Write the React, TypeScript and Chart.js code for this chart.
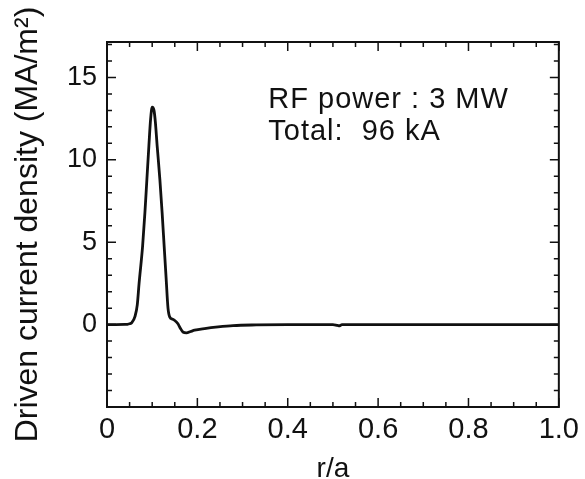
import { useEffect, useRef } from "react";
import { Chart, registerables } from "chart.js";

Chart.register(...registerables);

// r/a positions
const R = [
  0, 0.02, 0.04, 0.045, 0.05, 0.055, 0.062, 0.067, 0.071, 0.0788, 0.0839, 0.0883,
  0.0927, 0.0965, 0.1, 0.104, 0.107, 0.111, 0.117, 0.122, 0.1265, 0.131, 0.135,
  0.139, 0.145, 0.15, 0.157, 0.163, 0.168, 0.176, 0.185, 0.194, 0.216, 0.246,
  0.279, 0.33, 0.4, 0.5, 0.51, 0.515, 0.52, 0.6, 0.7, 0.8, 0.9, 1.0,
];
// driven current density (MA/m^2)
const J = [
  0, 0, 0.01, 0.02, 0.05, 0.12, 0.5, 1.2, 2.5, 4.76, 6.79, 8.82,
  10.85, 12.47, 13.2, 13.0, 12.3, 10.85, 8.82, 6.79, 4.76, 2.74, 1.0,
  0.45, 0.33, 0.25, 0.05, -0.25, -0.45, -0.5, -0.42, -0.34, -0.24, -0.14,
  -0.06, -0.02, 0, 0, -0.05, -0.07, 0, 0, 0, 0, 0, 0,
];

const X_TICKS = [0, 0.2, 0.4, 0.6, 0.8, 1.0];
const X_TICK_LABELS = ["0", "0.2", "0.4", "0.6", "0.8", "1.0"];
const X_MINOR = [0.05, 0.1, 0.15, 0.25, 0.3, 0.35, 0.45, 0.5, 0.55, 0.65, 0.7, 0.75, 0.85, 0.9, 0.95];
const Y_TICKS = [0, 5, 10, 15];
const Y_TICK_LABELS = ["0", "5", "10", "15"];
const Y_MINOR = [-4, -3, -2, -1, 1, 2, 3, 4, 6, 7, 8, 9, 11, 12, 13, 14, 16, 17];
const Y_MIN = -5;
const Y_MAX = 17.15;
const X_TITLE = "r/a";
const Y_TITLE = "Driven current density (MA/m\u00B2)";
const NOTE_LINES = ["RF power : 3 MW", "Total:  96 kA"];
const NOTE_X = 0.357;
const NOTE_Y = [13.12, 11.23];

const FONT = "'Liberation Sans', Arial, Helvetica, sans-serif";
const INK = "#111111";

const framePlugin = {
  id: "frameTicks",
  afterDraw(chart: any) {
    const { ctx, chartArea } = chart;
    const xs = chart.scales.x;
    const ys = chart.scales.y;
    const { left, right, top, bottom } = chartArea;
    ctx.save();
    ctx.strokeStyle = INK;
    ctx.lineWidth = 2;
    ctx.strokeRect(left, top, right - left, bottom - top);
    ctx.lineWidth = 1.5;
    const majorLen = 9;
    const minorLen = 5;
    ctx.beginPath();
    const vx = (v: number, len: number) => {
      const p = xs.getPixelForValue(v);
      ctx.moveTo(p, bottom);
      ctx.lineTo(p, bottom - len);
      ctx.moveTo(p, top);
      ctx.lineTo(p, top + len);
    };
    const vy = (v: number, len: number) => {
      const p = ys.getPixelForValue(v);
      ctx.moveTo(left, p);
      ctx.lineTo(left + len, p);
      ctx.moveTo(right, p);
      ctx.lineTo(right - len, p);
    };
    X_TICKS.forEach((v) => vx(v, majorLen));
    X_MINOR.forEach((v) => vx(v, minorLen));
    Y_TICKS.forEach((v) => vy(v, majorLen));
    Y_MINOR.forEach((v) => vy(v, minorLen));
    ctx.stroke();

    ctx.fillStyle = INK;
    ctx.font = `29px ${FONT}`;
    ctx.textBaseline = "alphabetic";
    ctx.textAlign = "left";
    try {
      (ctx as any).letterSpacing = "1px";
    } catch (e) {}
    NOTE_LINES.forEach((t, i) => {
      ctx.fillText(t, xs.getPixelForValue(NOTE_X), ys.getPixelForValue(NOTE_Y[i]));
    });
    ctx.restore();
  },
};

export default function App() {
  const ref = useRef<HTMLCanvasElement | null>(null);
  useEffect(() => {
    if (!ref.current) return;
    const chart = new Chart(ref.current, {
      type: "line",
      data: {
        datasets: [
          {
            data: R.map((r, i) => ({ x: r, y: J[i] })),
            borderColor: INK,
            borderWidth: 2.8,
            pointRadius: 0,
            fill: false,
            cubicInterpolationMode: "monotone",
          },
        ],
      },
      options: {
        animation: false,
        responsive: false,
        maintainAspectRatio: false,
        layout: { padding: { left: 0, right: 25, top: 42, bottom: 0 } },
        plugins: { legend: { display: false }, tooltip: { enabled: false } },
        scales: {
          x: {
            type: "linear",
            min: 0,
            max: 1,
            grid: { display: false, drawTicks: false },
            border: { display: false },
            afterBuildTicks: (s: any) => {
              s.ticks = X_TICKS.map((v) => ({ value: v }));
            },
            afterFit: (s: any) => {
              s.height = 72;
            },
            ticks: {
              autoSkip: false,
              maxRotation: 0,
              padding: 6,
              color: INK,
              font: { family: FONT, size: 29 },
              callback: (v: any) => X_TICK_LABELS[X_TICKS.indexOf(Number(v))] ?? "",
            },
            title: {
              display: true,
              text: X_TITLE,
              color: INK,
              font: { family: FONT, size: 28, lineHeight: 1 },
              padding: { top: 0, bottom: -4 },
            },
          },
          y: {
            type: "linear",
            min: Y_MIN,
            max: Y_MAX,
            grid: { display: false, drawTicks: false },
            border: { display: false },
            afterBuildTicks: (s: any) => {
              s.ticks = Y_TICKS.map((v) => ({ value: v }));
            },
            afterFit: (s: any) => {
              s.width = 107;
            },
            ticks: {
              autoSkip: false,
              padding: 10,
              color: INK,
              font: { family: FONT, size: 27 },
              callback: (v: any) => Y_TICK_LABELS[Y_TICKS.indexOf(Number(v))] ?? "",
            },
            title: {
              display: true,
              text: Y_TITLE,
              color: INK,
              font: { family: FONT, size: 32 },
              padding: { top: 9, bottom: 0 },
            },
          },
        },
      },
      plugins: [framePlugin],
    } as any);
    return () => chart.destroy();
  }, []);
  return (
    <div style={{ position: "fixed", left: 0, top: 0, width: 585, height: 479, background: "#fff" }}>
      <canvas ref={ref} width={585} height={479} />
    </div>
  );
}
